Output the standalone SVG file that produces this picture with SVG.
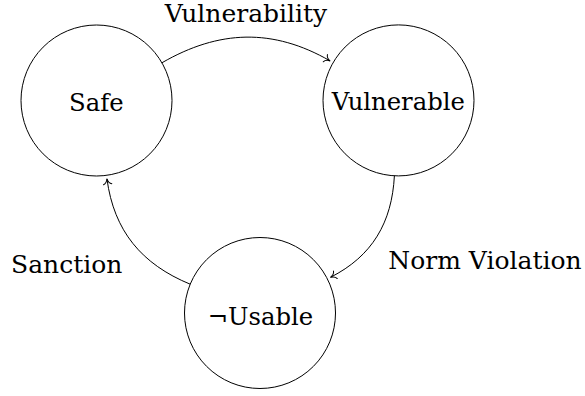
<svg xmlns="http://www.w3.org/2000/svg" width="585" height="396" viewBox="0 0 585 396">
  <style>
    .node circle { fill: #ffffff; stroke: #000000; stroke-width: 1; }
    .lbl { font-family: "DejaVu Serif", "Liberation Serif", serif; font-size: 25px; fill: #000000; text-anchor: middle; }
    .nlbl { font-size: 24.3px; }
    .edge { fill: none; stroke: #000000; stroke-width: 1; marker-end: url(#to); }
  </style>
  <defs>
    <marker id="to" viewBox="-8 -6 10 12" markerWidth="10" markerHeight="12" refX="0" refY="0" orient="auto" markerUnits="userSpaceOnUse">
      <path d="M-5.5,-4.2 C-4.8,-1.8 -1.8,-0.4 0,0 C-1.8,0.4 -4.8,1.8 -5.5,4.2" fill="none" stroke="#000000" stroke-width="1" stroke-linecap="round"/>
    </marker>
  </defs>
  <g id="nodes">
    <g id="safe" class="node">
      <circle cx="96.5" cy="100.5" r="75.5"/>
      <text class="lbl nlbl" x="96.3" y="111">Safe</text>
    </g>
    <g id="vulnerable" class="node">
      <circle cx="398.5" cy="100.4" r="75.5"/>
      <text class="lbl nlbl" x="398.3" y="110">Vulnerable</text>
    </g>
    <g id="unusable" class="node">
      <circle cx="260" cy="313" r="75.5"/>
      <text class="lbl nlbl" x="260.5" y="325">¬Usable</text>
    </g>
  </g>
  <g id="connectors">
    <path class="edge" d="M161.9,62.8 C219,29.8 273,28 330.1,60.9"/>
    <path class="edge" d="M394.4,175.8 C391.9,222.6 372.3,256.1 330.5,277.3"/>
    <path class="edge" d="M190.2,284.2 C141.6,264.2 113.9,230.9 106.95,178.8"/>
    <text class="lbl" x="246" y="22">Vulnerability</text>
    <text class="lbl" x="485" y="269">Norm Violation</text>
    <text class="lbl" x="66.7" y="272.7">Sanction</text>
  </g>
</svg>
